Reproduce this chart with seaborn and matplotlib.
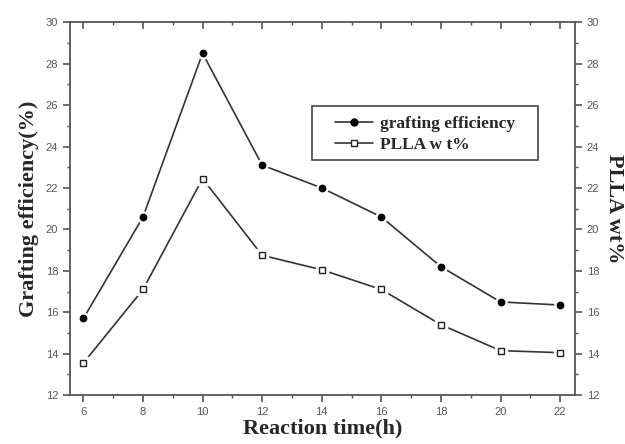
import matplotlib
matplotlib.use("Agg")
import matplotlib.pyplot as plt
import seaborn as sns
import pandas as pd
from matplotlib.ticker import MultipleLocator
from matplotlib.lines import Line2D
from matplotlib.patches import Rectangle

reaction_time = [6, 8, 10, 12, 14, 16, 18, 20, 22]
grafting_efficiency = [15.7, 20.6, 28.5, 23.1, 22.0, 20.6, 18.2, 16.5, 16.35]
plla_wt = [13.55, 17.1, 22.45, 18.75, 18.05, 17.1, 15.4, 14.15, 14.05]
series_names = ["grafting efficiency", "PLLA w t%"]

sns.set_theme(style="white")
plt.rcParams["font.family"] = ["Liberation Sans", "DejaVu Sans"]

df = pd.DataFrame({
    "time": reaction_time * 2,
    "value": grafting_efficiency + plla_wt,
    "series": [series_names[0]] * len(reaction_time) + [series_names[1]] * len(reaction_time),
})

fig = plt.figure(figsize=(6.25, 4.44), dpi=100)
ax = fig.add_axes([0.112, 0.110, 0.808, 0.840])
line_col = "#333333"
sns.lineplot(data=df, x="time", y="value", hue="series", palette=[line_col, line_col],
             ax=ax, legend=False, linewidth=1.2, sort=False)

# markers with white halo (gap between line and marker)
ax.plot(reaction_time, grafting_efficiency, linestyle="none", marker="o", markersize=8,
        markerfacecolor="white", markeredgecolor="white", zorder=3)
ax.plot(reaction_time, grafting_efficiency, linestyle="none", marker="o", markersize=4.6,
        markerfacecolor="black", markeredgecolor="black", zorder=4)
ax.plot(reaction_time, plla_wt, linestyle="none", marker="s", markersize=8,
        markerfacecolor="white", markeredgecolor="white", zorder=3)
ax.plot(reaction_time, plla_wt, linestyle="none", marker="s", markersize=4.4,
        markerfacecolor="white", markeredgecolor="#222222", markeredgewidth=1.0, zorder=4)

ax.set_xlim(5.55, 22.5)
ax.set_ylim(12, 30)
ax.xaxis.set_major_locator(MultipleLocator(2))
ax.xaxis.set_minor_locator(MultipleLocator(1))
ax.yaxis.set_major_locator(MultipleLocator(2))
ax.yaxis.set_minor_locator(MultipleLocator(1))

spine_col = "#555555"
for s in ax.spines.values():
    s.set_color(spine_col)
    s.set_linewidth(1.3)

tick_col = "#555555"
ax.tick_params(axis="x", which="major", direction="out", length=5, width=1.2, color=spine_col,
               labelsize=8, labelcolor=tick_col, bottom=True, top=False)
ax.tick_params(axis="x", which="minor", direction="out", length=2.5, width=1.0, color=spine_col,
               bottom=True, top=False)
ax.tick_params(axis="y", which="major", direction="out", length=5, width=1.2, color=spine_col,
               labelsize=8, labelcolor=tick_col, left=True, right=False)
ax.tick_params(axis="y", which="minor", direction="out", length=2.5, width=1.0, color=spine_col,
               left=True, right=False)

# top ticks (inward)
axt = ax.secondary_xaxis("top")
axt.xaxis.set_major_locator(MultipleLocator(2))
axt.xaxis.set_minor_locator(MultipleLocator(1))
axt.tick_params(axis="x", which="major", direction="in", length=5, width=1.2, color=spine_col, labeltop=False)
axt.tick_params(axis="x", which="minor", direction="in", length=2.5, width=1.0, color=spine_col)
axt.spines["top"].set_visible(False)

# right axis
axr = ax.twinx()
axr.set_ylim(12, 30)
axr.yaxis.set_major_locator(MultipleLocator(2))
axr.yaxis.set_minor_locator(MultipleLocator(1))
axr.tick_params(axis="y", which="major", direction="out", length=5, width=1.2, color=spine_col,
                labelsize=8, labelcolor=tick_col)
axr.tick_params(axis="y", which="minor", direction="out", length=2.5, width=1.0, color=spine_col)
for s in axr.spines.values():
    s.set_visible(False)

serif = ["Liberation Serif", "DejaVu Serif"]
ax.set_xlabel("Reaction time(h)", fontsize=16, fontweight="bold", family=serif, labelpad=1)
ax.set_ylabel("Grafting efficiency(%)", fontsize=16, fontweight="bold", family=serif, labelpad=5)
axr.set_ylabel("PLLA wt%", fontsize=16, fontweight="bold", family=serif, rotation=-90, labelpad=18)

# legend frame drawn separately
ax.add_patch(Rectangle((0.479, 0.630), 0.448, 0.145, transform=ax.transAxes,
                       facecolor="white", edgecolor="#444444", linewidth=1.2, zorder=9))
handles = [
    Line2D([], [], color=line_col, linewidth=1.2, marker="o", markersize=5,
           markerfacecolor="black", markeredgecolor="black"),
    Line2D([], [], color=line_col, linewidth=1.2, marker="s", markersize=4.5,
           markerfacecolor="white", markeredgecolor="#222222"),
]
leg = ax.legend(handles, series_names, loc="center left", bbox_to_anchor=(0.525, 0.700),
                frameon=False, handlelength=2.2,
                prop={"family": serif, "weight": "bold", "size": 12.5},
                borderpad=0, labelspacing=0.27, borderaxespad=0, handletextpad=0.4)
leg.set_zorder(10)

fig.savefig("out.png", dpi=100)
